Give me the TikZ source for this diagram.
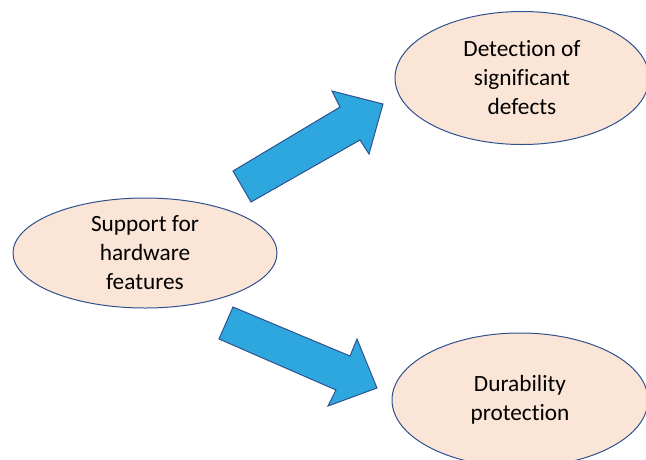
\documentclass[tikz,border=0pt]{standalone}
\usepackage{fontspec}
\setmainfont{Carlito}[Ligatures=NoCommon]
\usetikzlibrary{shapes.geometric}
\definecolor{peach}{HTML}{FBE5D6}
\definecolor{rim}{HTML}{2F528F}
\definecolor{arrowblue}{HTML}{2EA7DE}
\tikzset{
  bubble/.style={ellipse, draw=rim, fill=peach, line width=1pt, inner sep=0pt,
    align=center, font=\fontsize{23.3}{29}\selectfont},
  blockarrow/.style={draw=rim, fill=arrowblue, line width=1pt, line join=miter}
}
\begin{document}
\begin{tikzpicture}[x=1pt,y=-1pt]
\useasboundingbox (0,0) rectangle (646,459);
\clip (0,0) rectangle (646,459);
% three topic bubbles
\node[bubble, minimum width=264pt, minimum height=110pt] (support) at (145,253)
  {Support for\\hardware\\features};
\node[bubble, minimum width=254pt, minimum height=133pt] (detect) at (522,78)
  {Detection of\\significant\\defects};
\node[bubble, minimum width=256pt, minimum height=134pt] (durable) at (520,400)
  {Durability\\protection};
% block arrow pointing up-right
\draw[blockarrow] (233,171) -- (340,107) -- (332,91) -- (383,104)
  -- (369,154) -- (360,140) -- (251,202) -- cycle;
% block arrow pointing down-right
\draw[blockarrow] (233,307) -- (350,356) -- (357,339) -- (377,388)
  -- (328,406) -- (336,390) -- (219,339) -- cycle;
\end{tikzpicture}
\end{document}
